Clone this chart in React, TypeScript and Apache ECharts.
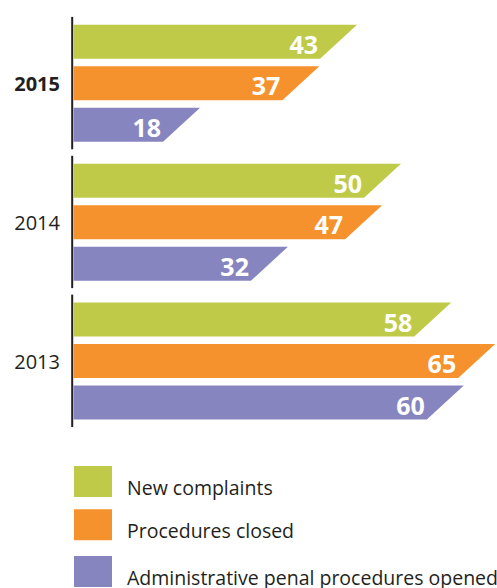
import React, { useEffect, useRef } from "react";
import * as echarts from "echarts";

const years = ["2013", "2014", "2015"];
const seriesNames = ["New complaints", "Procedures closed", "Administrative penal procedures opened"];
const newComplaints = [58, 50, 43];
const proceduresClosed = [65, 47, 37];
const penalOpened = [60, 32, 18];
const colors = ["#BFCA48", "#F6922D", "#8785C0"];

const seriesValues = [newComplaints, proceduresClosed, penalOpened];
const offsets = [-41.5, 0, 41.5];

export default function App() {
  const ref = useRef<HTMLDivElement>(null);
  useEffect(() => {
    const chart = echarts.init(ref.current!, null, { renderer: "svg" });
    const barH = 34;
    const barSeries = seriesValues.map((vals, si) => ({
      type: "custom",
      name: seriesNames[si],
      itemStyle: { color: colors[si] },
      data: vals.map((v, i) => [v, i]),
      encode: { x: 0, y: 1 },
      renderItem: (params: any, api: any) => {
        const v = api.value(0);
        const c = api.coord([v, api.value(1)]);
        const x0 = api.coord([0, api.value(1)])[0];
        const cy = c[1] + offsets[si];
        const top = cy - barH / 2;
        const bot = cy + barH / 2;
        const xt = c[0] + 14;
        const xb = c[0] - 23;
        return {
          type: "group",
          children: [
            {
              type: "polygon",
              shape: { points: [[x0 + 0.5, top], [xt, top], [xb, bot], [x0 + 0.5, bot]] },
              style: { fill: colors[si] },
            },
            {
              type: "text",
              style: {
                text: String(v),
                x: xb - 2,
                y: cy + 2,
                align: "right",
                verticalAlign: "middle",
                fill: "#ffffff",
                font: "bold 25px 'Open Sans'",
              },
            },
          ],
        };
      },
    }));

    const axisSeries = {
      type: "custom",
      name: "axis",
      silent: true,
      data: years.map((_, i) => [0, i]),
      encode: { x: 0, y: 1 },
      renderItem: (params: any, api: any) => {
        const c = api.coord([0, api.value(1)]);
        const bh = api.size([0, 1])[1];
        return {
          type: "line",
          shape: { x1: c[0] - 0.8, y1: c[1] - bh / 2 + 3, x2: c[0] - 0.8, y2: c[1] + bh / 2 - 3.5 },
          style: { stroke: "#231F20", lineWidth: 2 },
        };
      },
    };

    const legendTops = [466, 509.3, 556];
    const legendGraphics: any[] = [];
    seriesNames.forEach((n, i) => {
      legendGraphics.push({
        type: "rect",
        shape: { x: 74, y: legendTops[i], width: 38, height: 31 },
        style: { fill: colors[i] },
      });
      legendGraphics.push({
        type: "text",
        x: 127,
        y: legendTops[i] + 21.5,
        style: {
          text: n,
          fill: "#231F20",
          font: "19.5px 'Open Sans'",
          verticalAlign: "middle",
        },
      });
    });

    chart.setOption({
      animation: false,
      grid: { left: 73, top: 13.9, height: 416.6, width: 376.8, containLabel: false },
      xAxis: { type: "value", min: 0, max: 60, show: false },
      yAxis: {
        type: "category",
        data: years,
        axisLine: { show: false },
        axisTick: { show: false },
        splitLine: { show: false },
        axisLabel: {
          margin: 13,
          formatter: (v: string) => (v === "2015" ? "{b|" + v + "}" : "{r|" + v + "}"),
          rich: {
            b: { fontFamily: "Open Sans", fontSize: 20, fontWeight: "bold", color: "#231F20" },
            r: { fontFamily: "Open Sans", fontSize: 20, color: "#231F20" },
          },
        },
      },
      graphic: legendGraphics,
      series: [axisSeries, ...barSeries],
    });
    return () => chart.dispose();
  }, []);
  return <div ref={ref} style={{ width: 497, height: 588, position: "absolute", left: 0, top: 0 }} />;
}
